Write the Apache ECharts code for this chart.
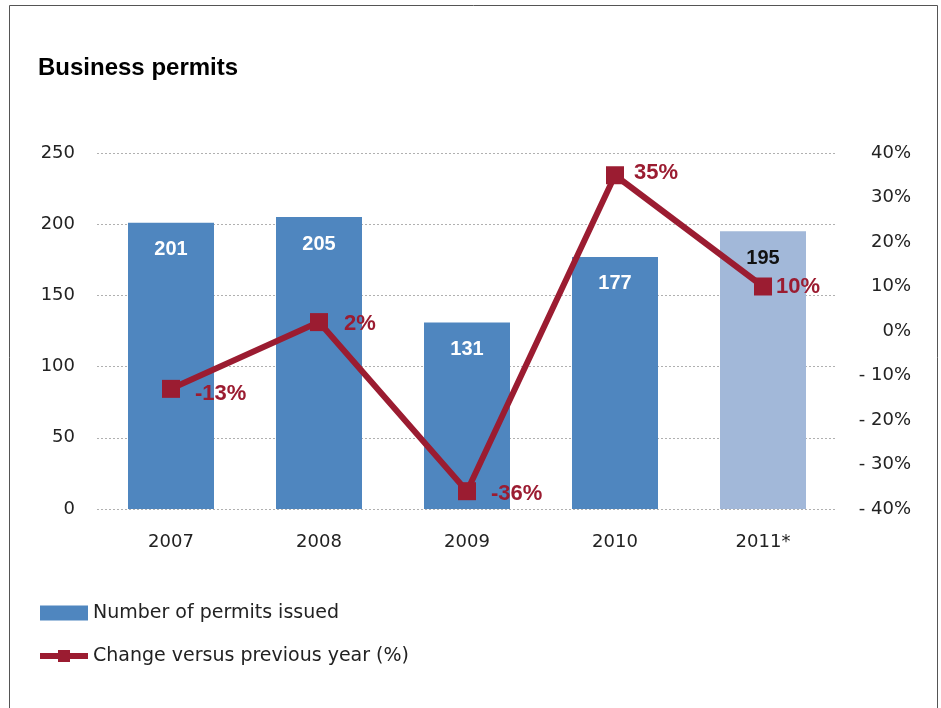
<!DOCTYPE html>
<html>
<head>
<meta charset="utf-8">
<script src="https://cdn.jsdelivr.net/npm/echarts@6/dist/echarts.min.js"></script>
<style>
  html, body { margin: 0; padding: 0; background: #fff; }
  #chart { width: 941px; height: 708px; }
</style>
</head>
<body>
<div id="chart"></div>
<script>
// Yearly business permit counts and year-on-year change
const years = ['2007', '2008', '2009', '2010', '2011*'];
const permits = [201, 205, 131, 177, 195];
const changePct = [-13, 2, -36, 35, 10];
const leftTicks = [0, 50, 100, 150, 200, 250];
const rightTicks = [-40, -30, -20, -10, 0, 10, 20, 30, 40];

const barBlue = '#4f86bf';
const barLight = '#a2b8d9';
const lineRed = '#9b1c31';
const textFont = '"DejaVu Sans", sans-serif';
const boldFont = '"Liberation Sans", Arial, sans-serif';

const chart = echarts.init(document.getElementById('chart'), null, { renderer: 'canvas' });

const barData = permits.map((v, i) => {
  const last = i === permits.length - 1;
  return {
    value: v,
    itemStyle: { color: last ? barLight : barBlue },
    label: { color: last ? '#111' : '#fff' }
  };
});

// per-point nudges for the percentage labels
const labelOffsets = [[11, 5], [12, 2], [11, 3], [6, -2], [0, 0]];
const lineData = changePct.map((v, i) => ({
  value: v,
  label: { offset: labelOffsets[i] }
}));

chart.setOption({
  animation: false,
  backgroundColor: '#fff',
  graphic: [
    {
      type: 'polyline',
      shape: { points: [[9.5, 712], [9.5, 5.5], [937.5, 5.5], [937.5, 712]] },
      style: { stroke: '#555', lineWidth: 1, fill: null },
      silent: true
    },
    {
      type: 'text',
      left: 38,
      top: 56,
      style: {
        text: 'Business permits',
        font: 'bold 24px ' + boldFont,
        fill: '#000'
      }
    }
  ],
  legend: {
    orient: 'vertical',
    left: 37,
    top: 603,
    padding: 0,
    itemWidth: 48,
    itemHeight: 15,
    itemGap: 23,
    textStyle: { fontFamily: textFont, fontSize: 19, color: '#222', lineHeight: 20 },
    data: [
      { name: 'Number of permits issued', icon: 'rect', itemStyle: { color: barBlue } },
      {
        name: 'Change versus previous year (%)',
        itemStyle: { color: lineRed },
        lineStyle: { color: lineRed, width: 6 }
      }
    ]
  },
  grid: { left: 97, right: 104, top: 153, bottom: 199 },
  xAxis: {
    type: 'category',
    data: years,
    axisLine: { show: false },
    axisTick: { show: false },
    axisLabel: { margin: 24, fontFamily: textFont, fontSize: 18, color: '#222' }
  },
  yAxis: [
    {
      type: 'value',
      min: leftTicks[0],
      max: leftTicks[leftTicks.length - 1],
      interval: 50,
      axisLine: { show: false },
      axisTick: { show: false },
      splitLine: { lineStyle: { color: '#b0b0b0', type: [2, 2], width: 1 } },
      axisLabel: { margin: 22, fontFamily: textFont, fontSize: 18, color: '#222' }
    },
    {
      type: 'value',
      min: rightTicks[0],
      max: rightTicks[rightTicks.length - 1],
      interval: 10,
      position: 'right',
      axisLine: { show: false },
      axisTick: { show: false },
      splitLine: { show: false },
      axisLabel: {
        align: 'right',
        margin: 74,
        fontFamily: textFont,
        fontSize: 18,
        color: '#222',
        formatter: v => (v < 0 ? '- ' + Math.abs(v) : String(v)) + '%'
      }
    }
  ],
  series: [
    {
      name: 'Number of permits issued',
      type: 'bar',
      yAxisIndex: 0,
      barWidth: 86,
      data: barData,
      label: {
        show: true,
        position: 'insideTop',
        distance: 17,
        fontFamily: boldFont,
        fontWeight: 'bold',
        fontSize: 20
      }
    },
    {
      name: 'Change versus previous year (%)',
      type: 'line',
      yAxisIndex: 1,
      data: lineData,
      symbol: 'rect',
      symbolSize: 18,
      itemStyle: { color: lineRed },
      lineStyle: { color: lineRed, width: 6 },
      z: 5,
      label: {
        show: true,
        position: 'right',
        distance: 4,
        fontFamily: boldFont,
        fontWeight: 'bold',
        fontSize: 22,
        color: lineRed,
        formatter: p => p.value + '%'
      }
    }
  ]
});
</script>
</body>
</html>
